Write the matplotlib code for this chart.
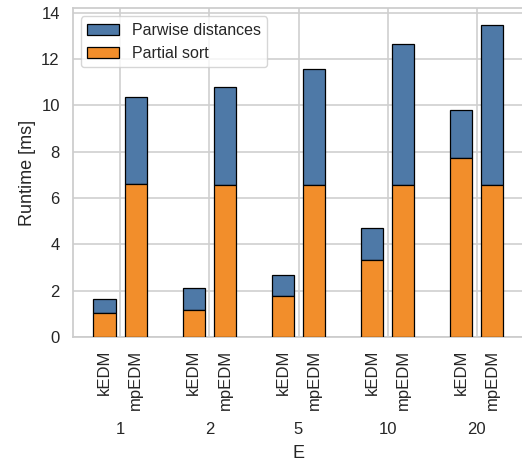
import matplotlib
matplotlib.use("Agg")
import matplotlib.pyplot as plt
import numpy as np
import seaborn as sns

E_values = ["1", "2", "5", "10", "20"]
impls = ["kEDM", "mpEDM"]
partial_kedm = [1.05, 1.16, 1.78, 3.33, 7.73]
total_kedm = [1.62, 2.10, 2.68, 4.70, 9.78]
partial_mpedm = [6.60, 6.58, 6.55, 6.55, 6.55]
total_mpedm = [10.34, 10.77, 11.55, 12.64, 13.46]

sns.set_theme(style="whitegrid")
plt.rcParams['font.family'] = ['Liberation Sans', 'DejaVu Sans']
plt.rcParams['grid.color'] = '#cfcfcf'
plt.rcParams['grid.linewidth'] = 1.2

blue = "#4e79a7"
orange = "#f28e2b"

fig = plt.figure(figsize=(5.22, 4.61), dpi=100)
ax = fig.add_axes([73/522, (461-337)/461, (524-73)/522, 328.5/461])

x = np.arange(len(E_values))
w = 0.25
off = 0.175
for xs, part, tot in [(x - off, partial_kedm, total_kedm), (x + off, partial_mpedm, total_mpedm)]:
    part = np.array(part); tot = np.array(tot)
    ax.bar(xs, tot - part, w, bottom=part, color=blue, edgecolor="black", linewidth=0.9,
           label="Parwise distances" if xs[0] < 0 else None, zorder=3)
    ax.bar(xs, part, w, color=orange, edgecolor="black", linewidth=0.9,
           label="Partial sort" if xs[0] < 0 else None, zorder=3)

ax.set_xticks(x)
ax.set_xticklabels(E_values, fontsize=12)
ax.tick_params(axis='x', which='major', pad=61, length=0)
minor_pos = np.concatenate([x - off, x + off])
minor_lab = ["kEDM"] * len(x) + ["mpEDM"] * len(x)
ax.set_xticks(minor_pos, minor=True)
ax.set_xticklabels(minor_lab, minor=True, rotation=90, fontsize=12)
ax.tick_params(axis='x', which='minor', pad=9, length=0)
ax.grid(True, axis='x', which='major')
ax.grid(False, axis='x', which='minor')

ax.set_ylim(0, 14.18)
ax.set_xlim(-0.53, 4.53)
ax.set_yticks([0, 2, 4, 6, 8, 10, 12, 14])
ax.tick_params(axis='y', labelsize=12)
ax.set_ylabel("Runtime [ms]", fontsize=13)
ax.set_xlabel("E", fontsize=13, labelpad=6)

ax.legend(loc="upper left", fontsize=11.5, frameon=True)

fig.savefig("out.png", dpi=100)
